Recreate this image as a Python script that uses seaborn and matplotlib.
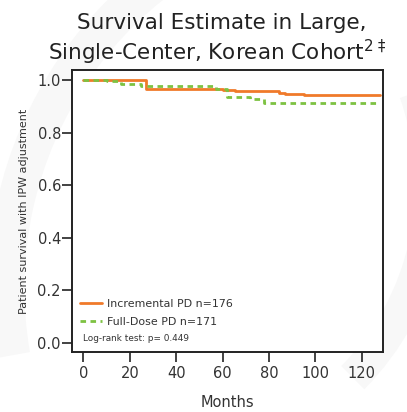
import matplotlib
matplotlib.use("Agg")
import matplotlib.pyplot as plt
import seaborn as sns
import pandas as pd
from matplotlib.patches import Wedge

# Kaplan-Meier style step curves (IPW adjusted survival)
incremental_months = [0, 27, 60, 65.5, 84.5, 87, 95, 128]
incremental_surv = [1.0, 0.967, 0.962, 0.957, 0.952, 0.947, 0.943, 0.943]

fulldose_months = [0, 10, 16, 25, 57, 62, 72, 78, 128]
fulldose_surv = [1.0, 0.995, 0.985, 0.977, 0.966, 0.936, 0.926, 0.911, 0.911]

group_labels = ["Incremental PD n=176", "Full-Dose PD n=171"]
x_ticks = [0, 20, 40, 60, 80, 100, 120]
y_ticks = [0.0, 0.2, 0.4, 0.6, 0.8, 1.0]

df = pd.concat([
    pd.DataFrame({"Months": incremental_months, "Survival": incremental_surv,
                  "Group": group_labels[0]}),
    pd.DataFrame({"Months": fulldose_months, "Survival": fulldose_surv,
                  "Group": group_labels[1]}),
])

sns.set_theme(style="white")
plt.rcParams["font.family"] = ["DejaVu Sans"]

text_color = "#333333"
orange = "#F07A2A"
green = "#7DC242"

fig = plt.figure(figsize=(4.07, 4.12), dpi=100)
fig.patch.set_facecolor("white")

# faint decorative swooshes in the background
bg = fig.add_axes([0, 0, 1, 1], zorder=-5)
bg.set_xlim(0, 1)
bg.set_ylim(0, 1)
bg.axis("off")
bg.add_patch(Wedge((0.95, 0.30), 0.98, 100, 190, width=0.09, color="#f8f8f8", lw=0))
bg.add_patch(Wedge((0.40, 0.55), 0.70, -45, 20, width=0.08, color="#f8f8f8", lw=0))

ax = fig.add_axes([0.177, 0.146, 0.764, 0.684])
ax.set_facecolor("white")

sns.lineplot(data=df, x="Months", y="Survival", hue="Group", style="Group",
             palette=[orange, green], dashes=[(None, None), (2, 1.6)],
             drawstyle="steps-post", linewidth=2.0, ax=ax, legend=True)

ax.set_xlim(-4.9, 129.1)
ax.set_ylim(-0.034, 1.038)
ax.set_xticks(x_ticks)
ax.set_yticks(y_ticks)
ax.set_yticklabels([f"{v:.1f}" for v in y_ticks])

for s in ax.spines.values():
    s.set_visible(True)
    s.set_color("#222222")
    s.set_linewidth(1.4)

ax.tick_params(axis="both", which="major", direction="out", length=7, width=1.2,
               color="#222222", labelcolor=text_color, labelsize=10.5,
               bottom=True, left=True, pad=1)
ax.tick_params(axis="x", pad=3)

ax.set_xlabel("Months", fontsize=10.5, color=text_color, labelpad=10)
ax.set_ylabel("Patient survival with IPW adjustment", fontsize=8, color=text_color,
              labelpad=6)

leg = ax.legend(loc="lower left", bbox_to_anchor=(0.0, 0.06), frameon=False,
                fontsize=7.9, handlelength=2.0, handletextpad=0.45,
                labelspacing=0.75, borderaxespad=0.3)
for t in leg.get_texts():
    t.set_color(text_color)

ax.text(0.035, 0.047, "Log-rank test: p= 0.449", transform=ax.transAxes,
        fontsize=6.4, color=text_color, va="center", ha="left")

fig.text(0.545, 0.943, "Survival Estimate in Large,", ha="center", va="center",
         fontsize=15.5, color="#222222")
fig.text(0.535, 0.872, r"Single-Center, Korean Cohort$^{2\ \ddag}$", ha="center",
         va="center", fontsize=15.5, color="#222222")

fig.savefig("out.png", dpi=100)
